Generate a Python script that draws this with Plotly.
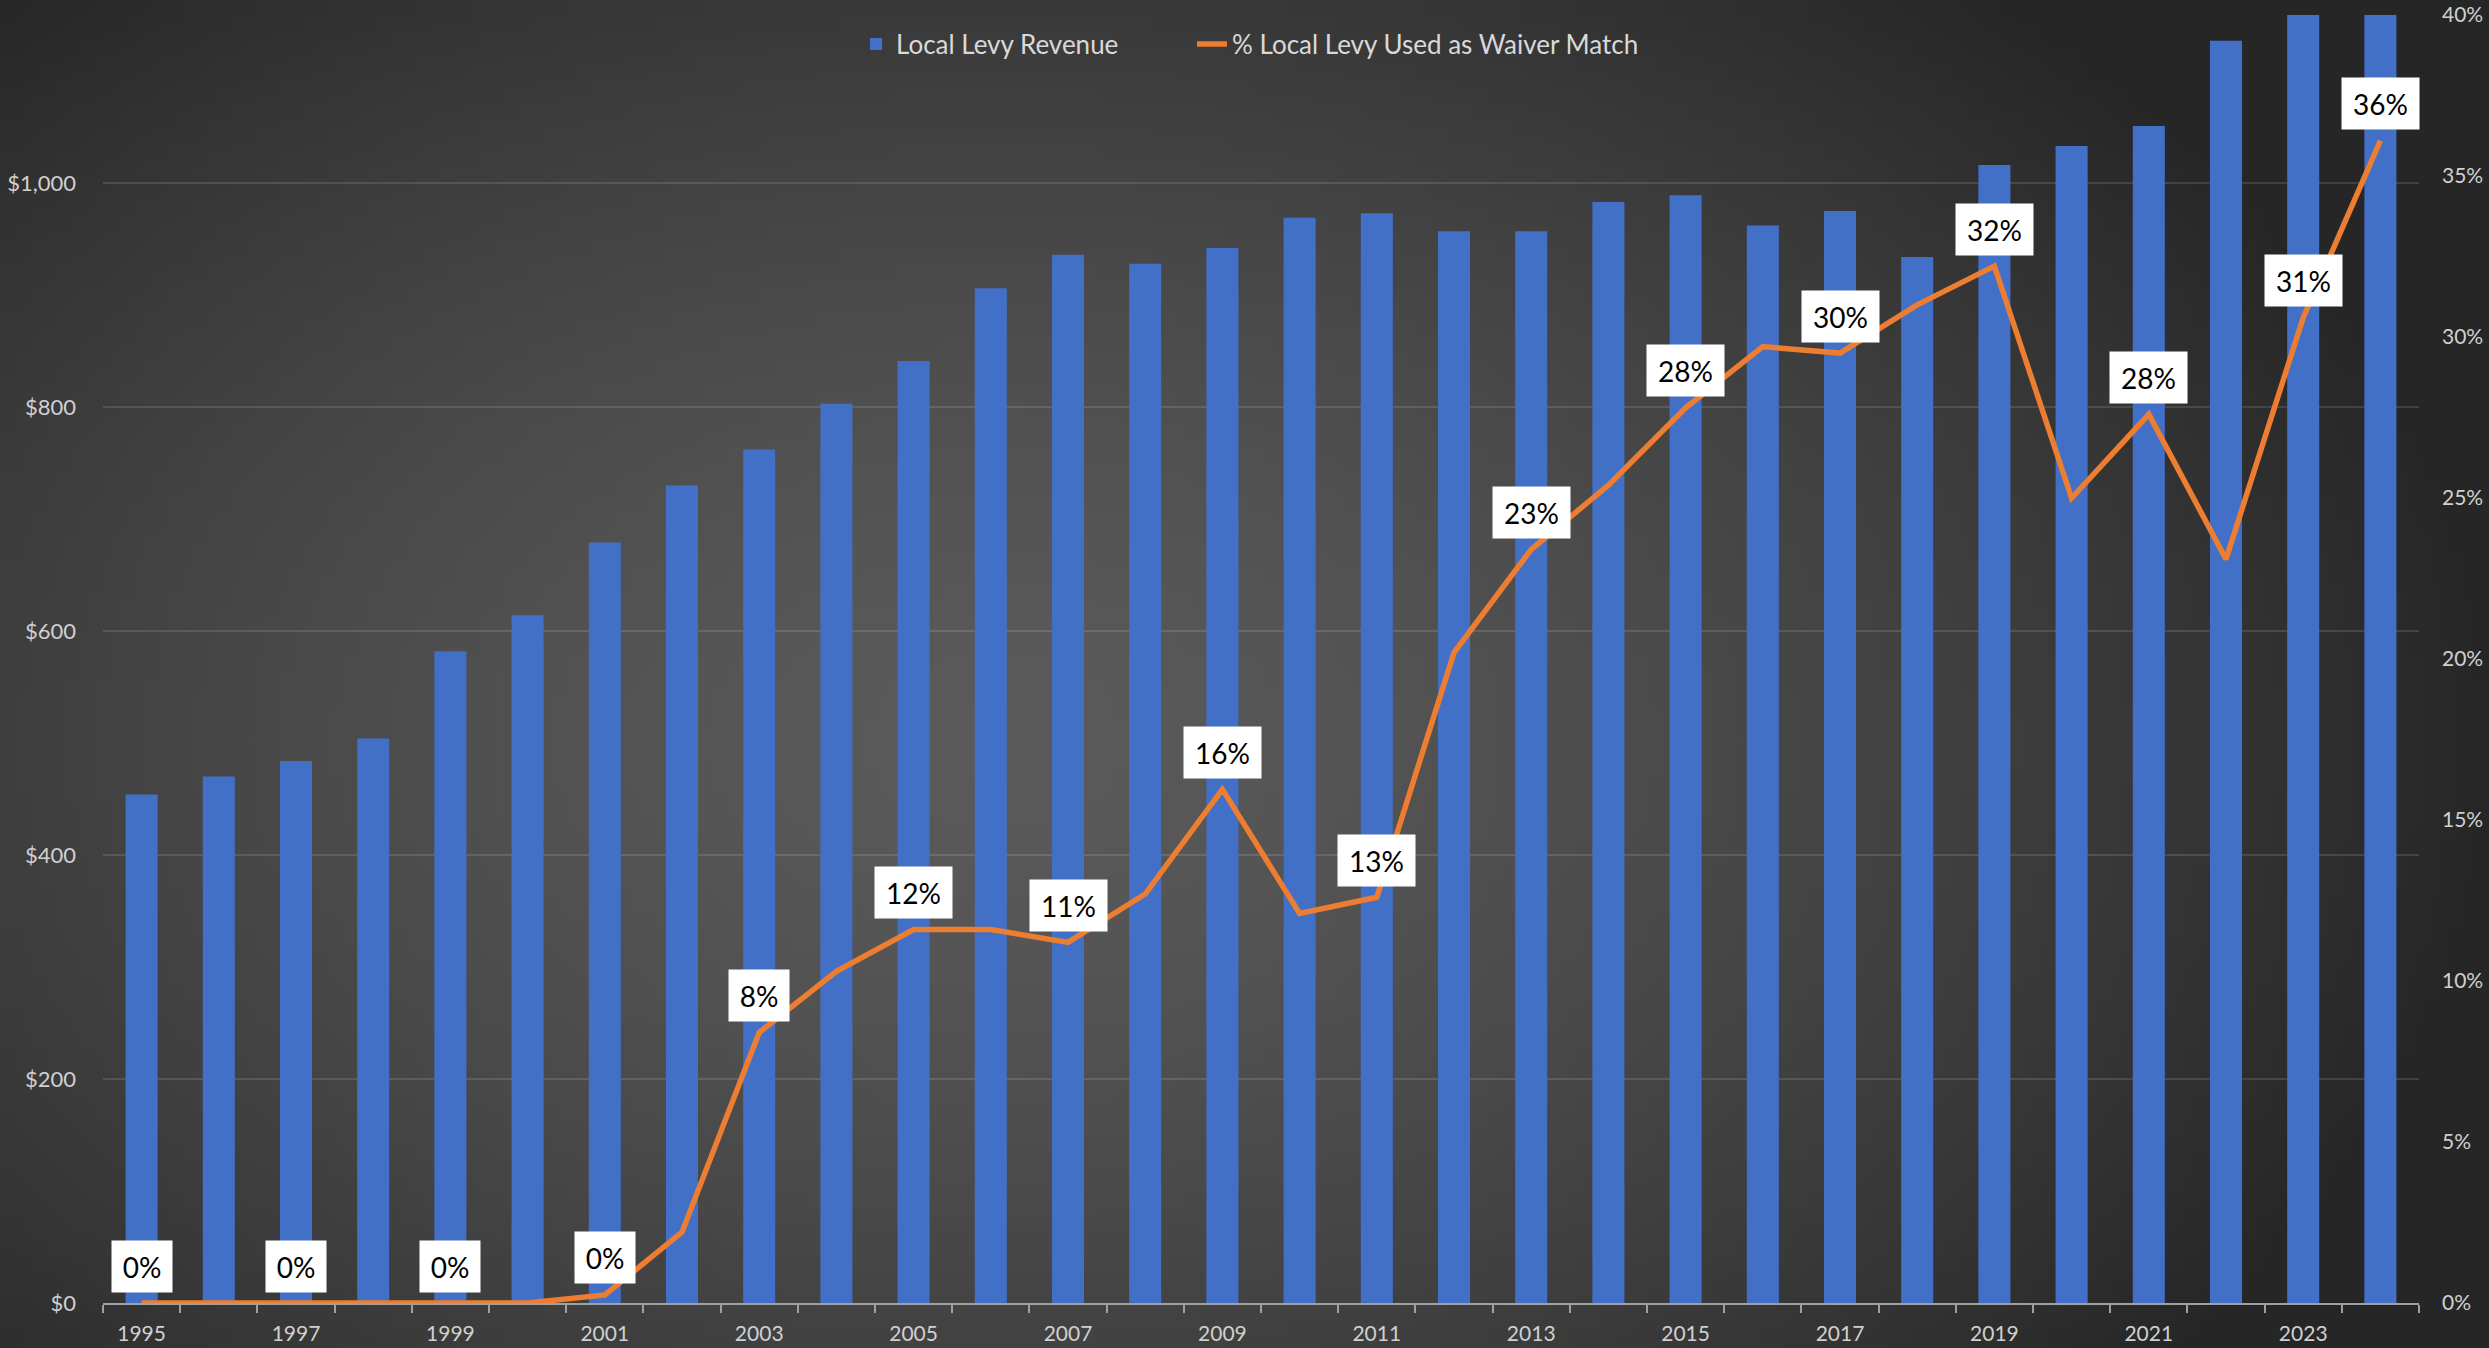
import base64
import struct
import zlib

import plotly.graph_objects as go

# ---------------- data ----------------
years = list(range(1995, 2025))
levy_revenue = [454, 470, 484, 504, 582, 614, 679, 730, 762, 803,
                841, 906, 936, 928, 942, 969, 973, 957, 957, 983,
                989, 962, 975, 934, 1016, 1033, 1051, 1127, 1165, 1170]
pct_waiver_match = [0, 0, 0, 0, 0, 0, 0.25, 2.2, 8.4, 10.3,
                    11.6, 11.6, 11.2, 12.7, 15.95, 12.1, 12.6, 20.2, 23.4, 25.4,
                    27.8, 29.7, 29.5, 31.0, 32.2, 25.0, 27.6, 23.1, 30.6, 36.1]
label_years = [1995, 1997, 1999, 2001, 2003, 2005, 2007, 2009, 2011,
               2013, 2015, 2017, 2019, 2021, 2023, 2024]
left_tick_values = [0, 200, 400, 600, 800, 1000]
right_tick_values = [0, 5, 10, 15, 20, 25, 30, 35, 40]
x_tick_years = list(range(1995, 2025, 2))

# ---------------- canvas geometry ----------------
W, H = 2489, 1348
ML, MR, MT, MB = 103, 70, 15, 45
PW, PH = W - ML - MR, H - MT - MB


# ---------------- background gradient (generated PNG) ----------------
def make_gradient_png(w=200, h=110):
    light, dark = 0x5a, 0x26
    cx, cy = 0.40 * W, 0.55 * H
    rows = []
    for j in range(h):
        row = bytearray()
        py = (j + 0.5) / h * H
        for i in range(w):
            px = (i + 0.5) / w * W
            d = (((px - cx) / 1500.0) ** 2 + ((py - cy) / 1000.0) ** 2) ** 0.5
            d = min(d, 1.0)
            v = int(round(light - (light - dark) * d ** 1.5))
            row.append(v)
        rows.append(b"\x00" + bytes(row))
    raw = b"".join(rows)

    def chunk(t, data):
        c = struct.pack(">I", len(data)) + t + data
        return c + struct.pack(">I", zlib.crc32(t + data) & 0xffffffff)

    png = (b"\x89PNG\r\n\x1a\n"
           + chunk(b"IHDR", struct.pack(">IIBBBBB", w, h, 8, 0, 0, 0, 0))
           + chunk(b"IDAT", zlib.compress(raw, 9))
           + chunk(b"IEND", b""))
    return "data:image/png;base64," + base64.b64encode(png).decode()


bg_src = make_gradient_png()

FONT = "Lato, 'Open Sans', sans-serif"
TICK_COLOR = "#d0d0d0"

fig = go.Figure()

fig.add_trace(go.Bar(
    x=years, y=levy_revenue, name="Local Levy Revenue",
    marker=dict(color="#4370c7", line=dict(width=0)),
    yaxis="y", hoverinfo="x+y", legend="legend",
))

fig.add_trace(go.Scatter(
    x=years, y=pct_waiver_match, name="% Local Levy Used as Waiver Match",
    mode="lines", line=dict(color="#ED7D31", width=5.5),
    yaxis="y2", cliponaxis=False, legend="legend2",
))

# data labels
pct_by_year = dict(zip(years, pct_waiver_match))
for yr in label_years:
    v = pct_by_year[yr]
    txt = f"{round(v)}%"
    fig.add_annotation(
        x=yr, y=v, xref="x", yref="y2",
        text=txt, showarrow=False,
        width=17 * len(txt) + 8, height=33, align="center",
        yshift=37, bgcolor="white", borderpad=9,
        font=dict(family=FONT, size=28, color="black"),
    )

fig.add_layout_image(dict(
    source=bg_src, xref="paper", yref="paper",
    x=-ML / PW, y=1 + MT / PH, sizex=W / PW, sizey=H / PH,
    xanchor="left", yanchor="top", sizing="stretch", layer="below",
))

legend_common = dict(
    orientation="h", xanchor="left", yanchor="middle",
    y=(PH + MT - 44) / PH, bgcolor="rgba(0,0,0,0)",
    font=dict(family=FONT, size=26, color="#d9d9d9"),
)

fig.update_layout(
    width=W, height=H,
    margin=dict(l=ML, r=MR, t=MT, b=MB, pad=0, autoexpand=False),
    paper_bgcolor="#2e2e2e", plot_bgcolor="rgba(0,0,0,0)",
    bargap=0.585,
    font=dict(family=FONT, color=TICK_COLOR),
    showlegend=True,
    legend=dict(legend_common, x=(856 - ML) / PW),
    legend2=dict(legend_common, x=(1192 - ML) / PW),
    xaxis=dict(
        range=[1994.5, 2024.5],
        tickmode="array", tickvals=x_tick_years,
        ticktext=[str(y) for y in x_tick_years],
        ticks="", showgrid=False, zeroline=False, automargin=False,
        showline=True, linecolor="#a0a0a0", linewidth=2,
        layer="below traces",
        tickfont=dict(family=FONT, size=21, color=TICK_COLOR),
        minor=dict(ticks="outside", tick0=1994.5, dtick=1, ticklen=8,
                   tickcolor="#a0a0a0", tickwidth=2, showgrid=False),
        ticklabelstandoff=11,
    ),
    yaxis=dict(
        range=[0, 1150], tickmode="array", tickvals=left_tick_values,
        ticktext=[f"${v:,}" for v in left_tick_values],
        showgrid=True, gridcolor="rgba(255,255,255,0.12)", gridwidth=1.5,
        zeroline=False, showline=False, ticks="", automargin=False,
        tickfont=dict(family=FONT, size=22, color=TICK_COLOR),
        ticklabelstandoff=26,
    ),
    yaxis2=dict(
        range=[0, 40], tickmode="array", tickvals=right_tick_values,
        ticktext=[f"{v}%" for v in right_tick_values],
        overlaying="y", side="right", automargin=False,
        showgrid=False, zeroline=False, showline=False, ticks="",
        tickfont=dict(family=FONT, size=21, color=TICK_COLOR),
        ticklabelstandoff=22,
    ),
)

fig.write_html(
    "out.html",
    config={"displayModeBar": False},
    post_script="document.body.style.margin='0';document.body.style.overflow='hidden';",
)
